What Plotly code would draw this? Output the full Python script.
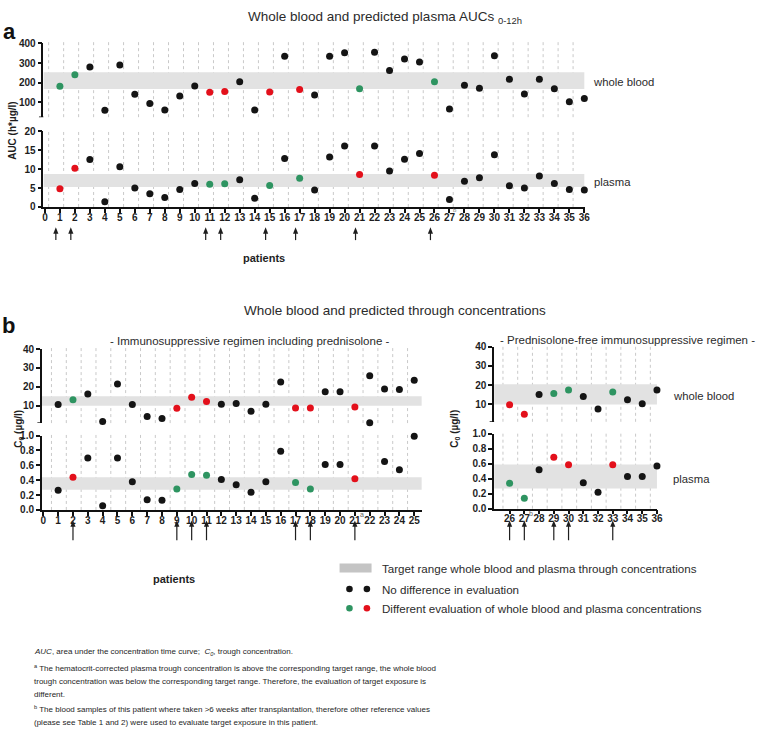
import plotly.graph_objects as go

W, H = 761, 736

# ---------------- data ----------------
# Panel a: AUC 0-12h, patients 1..36
a_patients = list(range(1, 37))
a_wb_auc = [182, 240, 280, 60, 290, 141, 95, 62, 133, 183, 152, 155, 205, 62, 153, 335, 165, 137,
            335, 353, 170, 355, 262, 320, 305, 205, 67, 187, 172, 337, 218, 143, 218, 170, 103, 120]
a_plasma_auc = [4.8, 10.2, 12.5, 1.4, 10.6, 5.0, 3.5, 2.5, 4.6, 6.2, 6.0, 6.1, 7.2, 2.3, 5.7, 12.8, 7.6, 4.5,
                13.2, 16.1, 8.6, 16.1, 9.5, 12.6, 14.1, 8.4, 2.0, 6.8, 7.7, 13.8, 5.6, 5.0, 8.2, 6.2, 4.6, 4.5]
# evaluation class per patient: k = no difference, g / r = different evaluation
a_wb_eval = ['g', 'g', 'k', 'k', 'k', 'k', 'k', 'k', 'k', 'k', 'r', 'r', 'k', 'k', 'r', 'k', 'r', 'k',
             'k', 'k', 'g', 'k', 'k', 'k', 'k', 'g', 'k', 'k', 'k', 'k', 'k', 'k', 'k', 'k', 'k', 'k']
a_plasma_eval = ['r', 'r', 'k', 'k', 'k', 'k', 'k', 'k', 'k', 'k', 'g', 'g', 'k', 'k', 'g', 'k', 'g', 'k',
                 'k', 'k', 'r', 'k', 'k', 'k', 'k', 'r', 'k', 'k', 'k', 'k', 'k', 'k', 'k', 'k', 'k', 'k']
a_arrows = [1, 2, 11, 12, 15, 17, 21, 26]
a_wb_range = [168, 253]
a_plasma_range = [5.3, 8.7]

# Panel b left: trough concentrations, prednisolone regimen, patients 1..25
bl_patients = list(range(1, 26))
bl_wb_c0 = [10.7, 13.1, 16.2, 1.7, 21.5, 10.7, 4.3, 3.2, 8.6, 14.5, 12.2, 10.8, 11.2, 7.0, 10.8, 22.5,
            8.8, 8.8, 17.4, 17.4, 9.3, 25.8, 18.8, 18.6, 23.5]
bl_wb_eval = ['k', 'g', 'k', 'k', 'k', 'k', 'k', 'k', 'r', 'r', 'r', 'k', 'k', 'k', 'k', 'k',
              'r', 'r', 'k', 'k', 'r', 'k', 'k', 'k', 'k']
bl_wb_extra_patient = [22]
bl_wb_extra_c0 = [1.0]
bl_plasma_c0 = [0.265, 0.44, 0.70, 0.057, 0.70, 0.378, 0.136, 0.13, 0.28, 0.476, 0.467, 0.41, 0.34,
                0.238, 0.38, 0.79, 0.37, 0.28, 0.61, 0.61, 0.42, None, 0.65, 0.54, 0.99]
bl_plasma_eval = ['k', 'r', 'k', 'k', 'k', 'k', 'k', 'k', 'g', 'g', 'g', 'k', 'k', 'k', 'k', 'k',
                  'g', 'g', 'k', 'k', 'r', 'k', 'k', 'k', 'k']
bl_arrows = [2, 9, 10, 11, 17, 18, 21]
bl_wb_range = [10, 15]
bl_plasma_range = [0.27, 0.44]

# Panel b right: prednisolone-free regimen, patients 26..36
br_patients = list(range(26, 37))
br_wb_c0 = [9.8, 4.9, 15.1, 15.6, 17.5, 14.1, 7.6, 16.4, 12.4, 10.4, 17.5]
br_wb_eval = ['r', 'r', 'k', 'g', 'g', 'k', 'k', 'g', 'k', 'k', 'k']
br_plasma_c0 = [0.337, 0.14, 0.52, 0.685, 0.585, 0.345, 0.218, 0.585, 0.428, 0.428, 0.567]
br_plasma_eval = ['g', 'g', 'k', 'r', 'r', 'k', 'k', 'r', 'k', 'k', 'k']
br_arrows = [26, 27, 29, 30, 33]
br_wb_range = [10, 20.5]
br_plasma_range = [0.27, 0.59]

# ---------------- styling ----------------
COL = {'k': '#141414', 'g': '#2e9461', 'r': '#e3101b'}
BAND = '#e2e2e2'
GRID = '#c9c9c9'
FONT = 'Liberation Sans, Arial, sans-serif'
TXT = '#2b2b2b'


def fx(px):
    return px / W


def fy(py):
    return 1 - py / H


fig = go.Figure()


def add_points(xs, ys, evals, xa, ya):
    for c in ['k', 'g', 'r']:
        px_ = [x for x, y, e in zip(xs, ys, evals) if e == c and y is not None]
        py_ = [y for x, y, e in zip(xs, ys, evals) if e == c and y is not None]
        if px_:
            fig.add_trace(go.Scatter(x=px_, y=py_, mode='markers', xaxis=xa, yaxis=ya,
                                     marker=dict(color=COL[c], size=7, line=dict(width=0)),
                                     cliponaxis=False, showlegend=False, hoverinfo='skip'))


add_points(a_patients, a_wb_auc, a_wb_eval, 'x2', 'y2')
add_points(a_patients, a_plasma_auc, a_plasma_eval, 'x', 'y')
add_points(bl_patients, bl_wb_c0, bl_wb_eval, 'x4', 'y4')
add_points(bl_wb_extra_patient, bl_wb_extra_c0, ['k'] * len(bl_wb_extra_c0), 'x4', 'y4')
add_points(bl_patients, bl_plasma_c0, bl_plasma_eval, 'x3', 'y3')
add_points(br_patients, br_wb_c0, br_wb_eval, 'x6', 'y6')
add_points(br_patients, br_plasma_c0, br_plasma_eval, 'x5', 'y5')

tickfont = dict(family=FONT, size=10, color='#1e1e1e', weight='bold')
axline = dict(showline=True, linecolor='#111', linewidth=1.6, ticks='outside', ticklen=4,
              tickwidth=1.5, tickcolor='#111', showgrid=False, zeroline=False, tickfont=tickfont)
xline = dict(axline, ticklabelstandoff=-4)

# domains (pixel based)
A_X0, BL_X0, BR_X0 = 42.8, 41.2, 497.7
a_xdom = [fx(A_X0), fx(589.5)]
a_xrange = [-0.1, 36.05]
bl_xdom = [fx(BL_X0), fx(425)]
bl_xrange = [-0.1, 25.53]
br_xdom = [fx(BR_X0), fx(662.5)]
br_xrange = [24.95, 36.03]
a_wb_yrange = [25, 400]
bl_wb_yrange = [0.8, 40]
br_wb_yrange = [0.96, 40]

layout = dict(
    width=W, height=H, autosize=False, margin=dict(l=0, r=0, t=0, b=0),
    paper_bgcolor='white', plot_bgcolor='rgba(0,0,0,0)', showlegend=False,
    font=dict(family=FONT, color=TXT),
    # panel a
    xaxis=dict(domain=a_xdom, range=a_xrange, anchor='y', tickvals=list(range(0, 37)), **xline),
    yaxis=dict(domain=[fy(204.3), fy(127.3)], range=[0, 20], anchor='x',
               tickvals=[0, 5, 10, 15, 20], **axline),
    xaxis2=dict(domain=a_xdom, range=a_xrange, anchor='y2', visible=False),
    yaxis2=dict(domain=[fy(113), fy(38)], range=a_wb_yrange, anchor='x2',
                tickvals=[100, 200, 300, 400], **axline),
    # panel b left
    xaxis3=dict(domain=bl_xdom, range=bl_xrange, anchor='y3', tickvals=list(range(0, 26)), **xline),
    yaxis3=dict(domain=[fy(512.3), fy(436.7)], range=[0, 1.0], anchor='x3',
                tickvals=[0, 0.2, 0.4, 0.6, 0.8, 1.0], tickformat='.1f', **axline),
    xaxis4=dict(domain=bl_xdom, range=bl_xrange, anchor='y4', visible=False),
    yaxis4=dict(domain=[fy(424), fy(348.7)], range=bl_wb_yrange, anchor='x4',
                tickvals=[10, 20, 30, 40], **axline),
    # panel b right
    xaxis5=dict(domain=br_xdom, range=br_xrange, anchor='y5', tickvals=list(range(26, 37)), **xline),
    yaxis5=dict(domain=[fy(511), fy(434.7)], range=[0, 1.0], anchor='x5',
                tickvals=[0, 0.2, 0.4, 0.6, 0.8, 1.0], tickformat='.1f', **axline),
    xaxis6=dict(domain=br_xdom, range=br_xrange, anchor='y6', visible=False),
    yaxis6=dict(domain=[fy(422.7), fy(346.3)], range=br_wb_yrange, anchor='x6',
                tickvals=[10, 20, 30, 40], **axline),
)
fig.update_layout(**layout)

shapes = []


def band(xa, ya, x0, x1, rng):
    shapes.append(dict(type='rect', xref=xa, yref=ya, x0=x0, x1=x1, y0=rng[0], y1=rng[1],
                       fillcolor=BAND, line=dict(width=0), layer='below'))


band('x2', 'y2', a_xrange[0], 36, a_wb_range)
band('x', 'y', a_xrange[0], 36, a_plasma_range)
band('x4', 'y4', bl_xrange[0], 25.5, bl_wb_range)
band('x3', 'y3', bl_xrange[0], 25.5, bl_plasma_range)
band('x6', 'y6', br_xrange[0], 36, br_wb_range)
band('x5', 'y5', br_xrange[0], 36, br_plasma_range)


def grid(xa, ya, positions):
    for p in positions:
        shapes.append(dict(type='line', xref=xa, yref=ya + ' domain', x0=p, x1=p, y0=0, y1=1.02,
                           line=dict(color=GRID, width=1, dash='dot'), layer='below'))


a_grid = [k + 0.25 for k in range(0, 36)]
bl_grid = [k + 0.55 for k in range(0, 25)]
br_grid = [k + 0.55 for k in range(25, 36)]
grid('x2', 'y2', a_grid)
grid('x', 'y', a_grid)
grid('x4', 'y4', bl_grid)
grid('x3', 'y3', bl_grid)
grid('x6', 'y6', br_grid)
grid('x5', 'y5', br_grid)


# end ticks at the lower end of the broken (upper) axes
def end_tick(ya, xpx, val):
    shapes.append(dict(type='line', xref='paper', yref=ya, x0=fx(xpx - 4.5), x1=fx(xpx), y0=val, y1=val,
                       line=dict(color='#111', width=1.5)))


end_tick('y2', A_X0, a_wb_yrange[0])
end_tick('y4', BL_X0, bl_wb_yrange[0])
end_tick('y6', BR_X0, br_wb_yrange[0])


def arrows(xa, xs, dx, y_head, length, ppu):
    """vertical arrows below the x axis: line + triangular head (head at y_head px)."""
    hw = 2.6 / ppu  # half width of head in data units
    for p in xs:
        x = p + dx
        shapes.append(dict(type='line', xref=xa, yref='paper', x0=x, x1=x,
                           y0=fy(y_head + 4), y1=fy(y_head + length),
                           line=dict(color='#1e1e1e', width=1.2)))
        shapes.append(dict(type='path', xref=xa, yref='paper',
                           path=f'M{x - hw},{fy(y_head + 6.5)} L{x},{fy(y_head)} L{x + hw},{fy(y_head + 6.5)} Z',
                           fillcolor='#1e1e1e', line=dict(width=0)))


arrows('x', a_arrows, -0.27, 225, 13, 15.12)
arrows('x3', bl_arrows, 0, 523, 20, 14.98)
arrows('x5', br_arrows, 0, 523, 20, 14.87)

# legend
lx1, lx2 = 351.7, 369.3
shapes.append(dict(type='rect', xref='paper', yref='paper', x0=fx(341.7), x1=fx(374), y0=fy(576),
                   y1=fy(566.7), fillcolor='#c4c4c4', line=dict(width=0)))
for (cx, cy, c) in [(lx1, 592.7, 'k'), (lx2, 592.7, 'k'), (lx1, 612.3, 'g'), (lx2, 612.3, 'r')]:
    shapes.append(dict(type='circle', xref='paper', yref='paper', xsizemode='pixel', ysizemode='pixel',
                       xanchor=fx(cx), yanchor=fy(cy), x0=-3.3, x1=3.3, y0=-3.3, y1=3.3,
                       fillcolor=COL[c], line=dict(width=0)))
fig.update_layout(shapes=shapes)

ann = []


def text(x, y, s, size=11, anchor='left', weight='normal', color=TXT, angle=0, yanchor='middle'):
    ann.append(dict(x=fx(x), y=fy(y), xref='paper', yref='paper', text=s, showarrow=False,
                    xanchor=anchor, yanchor=yanchor, textangle=angle,
                    font=dict(size=size, color=color, family=FONT, weight=weight)))


# panel a texts
text(9, 26, 'a', size=22, anchor='center', weight='bold', color='#111')
text(388, 12, 'Whole blood and predicted plasma AUCs <sub>0-12h</sub>', size=13.5, anchor='center')
text(595, 77, 'whole blood', size=11.3)
text(596, 179, 'plasma', size=11.3)
text(12, 126, 'AUC (h*µg/l)', size=10, anchor='center', weight='bold', color='#1e1e1e', angle=-90)
text(265, 256, 'patients', size=11, anchor='center', weight='bold', color='#1e1e1e')
text(458, 207.5, 'b', size=6, anchor='center', color='#777')

# panel b texts
text(8, 325, 'b', size=22, anchor='center', weight='bold', color='#111')
text(398, 310, 'Whole blood and predicted through concentrations', size=13.5, anchor='center')
text(251.5, 341, '- Immunosuppressive regimen including prednisolone -', size=11.5, anchor='center')
text(632.5, 340, '- Prednisolone-free immunosuppressive regimen -', size=11.5, anchor='center')
text(676, 396, 'whole blood', size=11.3)
text(676, 481, 'plasma', size=11.3)
text(18, 430, 'C<sub>0</sub> (µg/l)', size=10, anchor='center', weight='bold', color='#1e1e1e', angle=-90)
text(458, 430, 'C<sub>0</sub> (µg/l)', size=10, anchor='center', weight='bold', color='#1e1e1e', angle=-90)
text(175, 583, 'patients', size=11, anchor='center', weight='bold', color='#1e1e1e')
text(364.5, 516.5, 'a', size=7, anchor='center', color='#666')
text(534.7, 516, 'b', size=7, anchor='center', color='#666')

# legend texts
LG = 11.6
text(382.7, 571.7, 'Target range whole blood and plasma through concentrations', size=LG)
text(382.7, 592.7, 'No difference in evaluation', size=LG)
text(382.7, 612.3, 'Different evaluation of whole blood and plasma concentrations', size=LG)

# footnotes
FN = 8
FC = '#1e1e1e'
text(31.7, 656.7, '<i>AUC</i>, area under the concentration time curve;  <i>C<sub>0</sub></i>, trough concentration.',
     size=FN, color=FC)
text(31.7, 672.7, '<sup>a</sup> The hematocrit-corrected plasma trough concentration is above the corresponding target range, the whole blood',
     size=FN, color=FC)
text(31.7, 686.7, 'trough concentration was below the corresponding target range. Therefore, the evaluation of target exposure is',
     size=FN, color=FC)
text(31.7, 700, 'different.', size=FN, color=FC)
text(31.7, 714.3, '<sup>b</sup> The blood samples of this patient where taken &gt;6 weeks after transplantation, therefore other reference values',
     size=FN, color=FC)
text(31.7, 728.3, '(please see Table 1 and 2) were used to evaluate target exposure in this patient.',
     size=FN, color=FC)

fig.update_layout(annotations=ann)

fig.write_html('out.html', config={'displayModeBar': False},
               post_script="document.body.style.margin='0';")
